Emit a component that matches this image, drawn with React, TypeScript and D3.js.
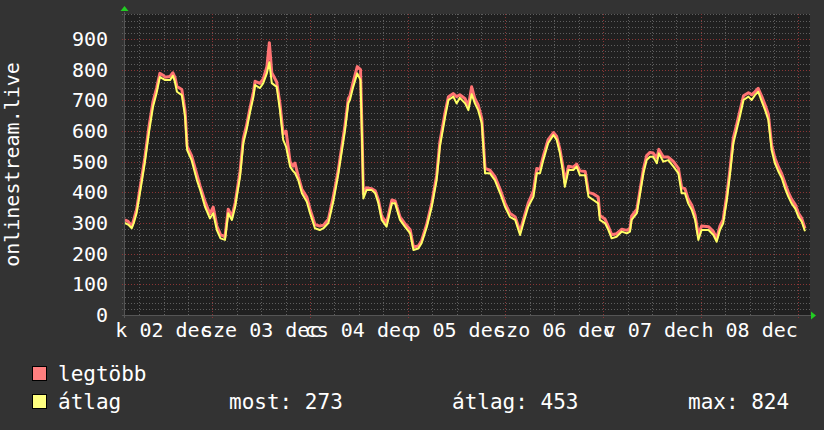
import React from "react";
import * as d3 from "d3";

// hours since Dec 2 00:00
const hours = [2.5,3.3,4.2,4.7,5.4,6.6,7.4,8.4,9.4,10.3,11.1,11.9,12.4,13.6,14.3,14.8,15.3,16.5,17.3,17.8,18.9,20.2,21.0,22.2,23.4,24.2,25.1,26.0,27.1,27.9,28.8,29.6,30.8,31.6,32.4,33.2,34.1,34.5,35.7,36.5,37.4,38.0,38.6,39.8,40.6,41.4,42.1,43.1,43.8,44.3,45.1,46.0,47.2,48.0,49.2,50.4,51.3,52.5,53.7,54.9,56.6,57.4,57.8,58.6,59.6,60.4,60.8,61.1,61.9,63.1,64.0,64.8,65.6,66.8,68.1,68.9,70.1,71.3,72.6,73.4,74.6,75.4,76.7,77.9,79.1,79.9,81.2,82.0,83.2,84.0,84.8,86.1,86.9,87.7,88.5,89.3,90.2,91.0,92.2,93.4,94.7,95.9,97.1,98.4,99.6,100.4,101.6,102.9,103.7,104.5,105.3,106.5,107.8,108.6,109.4,110.2,110.6,111.5,112.7,113.5,114.3,115.6,116.4,117.6,118.8,119.2,120.5,121.3,122.1,123.3,124.6,125.8,126.6,127.0,128.3,129.1,129.9,130.7,131.5,132.3,133.2,133.7,134.8,136.0,137.3,138.5,139.3,140.1,140.9,141.8,142.6,143.4,144.2,145.9,147.1,147.9,148.7,149.5,150.4,151.2,152.0,152.8,153.6,154.5,155.7,156.5,157.3,158.1,159.0,159.8,160.6,161.4,162.2,163.1,163.9,164.7,165.5,166.3,167.2,168.0,168.8,169.6];

const avgValues = [300,295,283,300,333,430,496,593,678,724,776,770,766,766,780,760,728,717,647,538,505,440,408,353,315,332,277,250,245,332,310,353,451,560,603,658,712,750,740,756,789,824,756,744,668,571,549,484,470,463,440,397,369,332,283,277,283,300,369,456,603,691,701,744,788,766,560,380,408,408,397,364,310,288,364,364,310,288,266,212,217,234,288,353,440,549,647,701,712,690,708,690,668,720,690,668,625,462,462,440,397,353,320,310,261,299,353,386,462,462,505,560,587,571,527,462,418,473,473,484,456,456,386,375,364,310,299,277,250,255,272,266,272,310,332,397,462,505,516,516,495,527,500,505,484,462,397,397,364,342,310,245,277,277,261,239,277,299,375,462,560,603,647,701,712,701,717,728,696,668,636,538,495,467,446,413,386,364,347,320,304,273];

const maxValues = [310,305,290,312,345,445,512,612,695,740,788,782,775,778,790,775,745,735,665,550,520,458,420,370,330,352,290,262,255,345,322,365,468,575,618,672,728,762,755,770,810,888,790,760,690,590,600,500,485,495,452,410,385,345,295,290,293,312,385,470,620,705,715,760,810,800,580,395,415,412,405,375,322,300,375,372,320,298,278,222,225,242,298,365,455,565,662,712,722,712,718,705,680,744,705,685,640,478,472,452,410,365,332,320,272,310,365,405,478,475,518,572,595,582,540,478,432,485,482,492,470,468,400,395,385,325,312,288,262,265,280,276,282,322,345,410,475,520,530,528,512,540,515,515,500,478,415,412,378,358,325,262,290,288,272,250,290,312,392,478,578,620,665,715,725,718,728,739,712,685,655,555,512,482,460,430,400,378,360,332,315,282];

const yTicks = [0,100,200,300,400,500,600,700,800,900];
const dayLabels = ["k 02 dec","sze 03 dec","cs 04 dec","p 05 dec","szo 06 dec","v 07 dec","h 08 dec"];
const legendNames = ["legtöbb","átlag"];
const legendStats = ["most: 273","átlag: 453","max: 824"];

const W = 824, H = 430;
const X0 = 124, X1 = 810, Y0 = 315, YT = 14;
const FONT = "'DejaVu Sans Mono', monospace";

export default function App() {
  const x = d3.scaleLinear().domain([2.29, 170.83]).range([X0, X1]);
  const y = d3.scaleLinear().domain([0, 900]).range([Y0, 39]);
  const topVal = y.invert(YT);

  const minorY = d3.range(20, topVal, 20).filter(v => v % 100 !== 0);
  const majorY = d3.range(100, topVal, 100);
  const minorX = d3.range(6, 171, 6).filter(h => h % 24 !== 0);
  const majorX = d3.range(24, 171, 24);

  const lineGen = d3.line<[number, number]>().x(d => x(d[0])).y(d => y(d[1])).curve(d3.curveLinear);
  const maxPts: [number, number][] = hours.map((h, i) => [h, maxValues[i]]);
  const avgPts: [number, number][] = hours.map((h, i) => [h, avgValues[i]]);

  return (
    <svg width={W} height={H} style={{ position: "absolute", left: 0, top: 0 }}>
      <rect x={0} y={0} width={W} height={H} fill="#333333" />
      <rect x={X0} y={YT} width={X1 - X0} height={Y0 - YT} fill="#202020" />
      <defs>
        <clipPath id="plotclip">
          <rect x={X0} y={YT} width={X1 - X0 + 2} height={Y0 - YT} />
        </clipPath>
      </defs>
      {minorY.map(v => (
        <line key={"my" + v} x1={X0 - 2} x2={X1 + 2} y1={Math.round(y(v)) + 0.5} y2={Math.round(y(v)) + 0.5}
          stroke="#5e5e5e" strokeWidth={1} strokeDasharray="1,2" />
      ))}
      {minorX.map(h => (
        <line key={"mx" + h} x1={Math.round(x(h)) + 0.5} x2={Math.round(x(h)) + 0.5} y1={YT} y2={Y0 + 2}
          stroke="#5e5e5e" strokeWidth={1} strokeDasharray="1,2" />
      ))}
      {majorY.map(v => (
        <line key={"My" + v} x1={X0 - 2} x2={X1 + 2} y1={Math.round(y(v)) + 0.5} y2={Math.round(y(v)) + 0.5}
          stroke="#8a3535" strokeWidth={1} strokeDasharray="1,2" />
      ))}
      {majorX.map(h => (
        <line key={"Mx" + h} x1={Math.round(x(h)) + 0.5} x2={Math.round(x(h)) + 0.5} y1={YT} y2={Y0 + 3}
          stroke="#8a3535" strokeWidth={1} strokeDasharray="1,2" />
      ))}
      <g clipPath="url(#plotclip)">
        <path d={lineGen(maxPts) || ""} fill="none" stroke="#ff7373" strokeWidth={3} strokeLinejoin="round" />
        <path d={lineGen(avgPts) || ""} fill="none" stroke="#ffff66" strokeWidth={2} strokeLinejoin="round" />
      </g>
      <line x1={X0 - 2} x2={X1 + 2} y1={Y0 + 0.5} y2={Y0 + 0.5} stroke="#555" strokeWidth={1} />
      <line x1={X0 + 0.5} x2={X0 + 0.5} y1={YT - 2} y2={Y0 + 3} stroke="#555" strokeWidth={1} />
      <path d={`M${X1 + 1},${Y0 - 3.5} L${X1 + 6},${Y0 + 0.5} L${X1 + 1},${Y0 + 4.5} Z`} fill="#22cc22" />
      <path d={`M${X0 - 3.5},${YT - 3} L${X0 + 0.5},${YT - 8} L${X0 + 4.5},${YT - 3} Z`} fill="#22cc22" />
      {yTicks.map(v => (
        <text key={"yl" + v} x={108} y={y(v) + 7} textAnchor="end" fill="#ffffff"
          fontFamily={FONT} fontSize={20}>{v}</text>
      ))}
      {dayLabels.map((lab, i) => (
        <text key={"xl" + i} x={x(i * 24 + 12)} y={337} textAnchor="middle" fill="#ffffff"
          fontFamily={FONT} fontSize={20}>{lab}</text>
      ))}
      <text transform={`translate(19,${(YT + Y0) / 2}) rotate(-90)`} textAnchor="middle" fill="#ffffff"
        fontFamily={FONT} fontSize={20}>onlinestream.live</text>
      <rect x={32.5} y={366.5} width={14} height={14} fill="#ff7f7f" stroke="#000" strokeWidth={1} />
      <rect x={32.5} y={394.5} width={14} height={14} fill="#ffff7f" stroke="#000" strokeWidth={1} />
      <text x={58} y={381} fill="#ffffff" fontFamily={FONT} fontSize={21}>{legendNames[0]}</text>
      <text x={58} y={409} fill="#ffffff" fontFamily={FONT} fontSize={21}>{legendNames[1]}</text>
      <text x={229} y={409} fill="#ffffff" fontFamily={FONT} fontSize={21}>{legendStats[0]}</text>
      <text x={452} y={409} fill="#ffffff" fontFamily={FONT} fontSize={21}>{legendStats[1]}</text>
      <text x={688} y={409} fill="#ffffff" fontFamily={FONT} fontSize={21}>{legendStats[2]}</text>
    </svg>
  );
}
